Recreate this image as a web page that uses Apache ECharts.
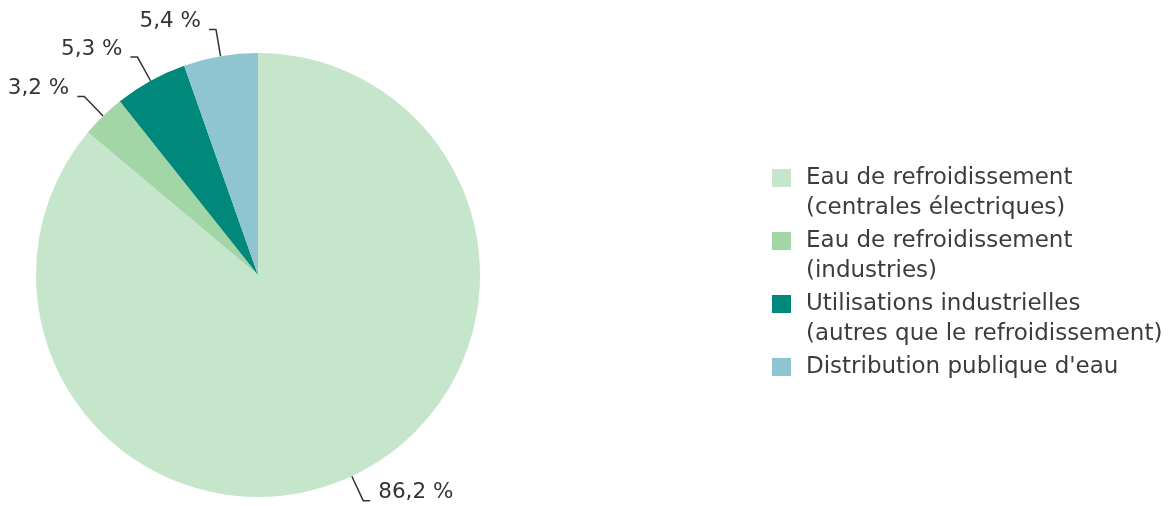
<!DOCTYPE html>
<html>
<head>
<meta charset="utf-8">
<style>
  html, body { margin: 0; padding: 0; background: #ffffff; }
  #chart { width: 1170px; height: 506px; }
</style>
<script src="https://cdn.jsdelivr.net/npm/echarts@6/dist/echarts.min.js"></script>
</head>
<body>
<div id="chart"></div>
<script>
// Répartition des prélèvements d'eau par usage (%)
const categories = [
  'Eau de refroidissement\n(centrales électriques)',
  'Eau de refroidissement\n(industries)',
  'Utilisations industrielles\n(autres que le refroidissement)',
  "Distribution publique d'eau"
];
const values = [86.2, 3.2, 5.3, 5.4];
const colors = ['#c6e6cb', '#a3d6a6', '#00897b', '#8fc4d1'];

const FONT = '"DejaVu Sans", Verdana, sans-serif';

const chart = echarts.init(document.getElementById('chart'));

chart.setOption({
  animation: false,
  backgroundColor: '#ffffff',
  legend: {
    orient: 'vertical',
    left: 772,
    top: 133,
    padding: 0,
    itemGap: -27,
    itemWidth: 19,
    itemHeight: 18,
    icon: 'rect',
    selectedMode: false,
    // every entry is laid out as three 30px lines so the swatch sits on the first text line
    formatter: function (name) {
      return name.indexOf('\n') >= 0 ? '\n' + name : '\n' + name + '\n';
    },
    textStyle: {
      fontFamily: FONT,
      fontSize: 23,
      color: '#3c3c3c',
      lineHeight: 30,
      padding: [0, 0, 0, 10]
    },
    data: categories
  },
  series: [{
    type: 'pie',
    center: [258, 275],
    radius: [0, 222],
    startAngle: 90,
    clockwise: true,
    avoidLabelOverlap: false,
    color: colors,
    itemStyle: { borderWidth: 0 },
    emphasis: { disabled: true },
    label: {
      show: true,
      position: 'outside',
      formatter: function (p) {
        return '{v|' + p.value.toFixed(1).replace('.', ',') + ' %}\n{s| }';
      },
      distanceToLabelLine: 8,
      rich: {
        v: { fontFamily: FONT, fontSize: 21.5, color: '#333333', lineHeight: 26 },
        s: { fontSize: 1, lineHeight: 16 }
      }
    },
    labelLine: {
      show: true,
      length: 27,
      length2: 7,
      lineStyle: { color: '#333333', width: 1.5 }
    },
    data: categories.map(function (name, i) {
      return { name: name, value: values[i] };
    })
  }]
});
</script>
</body>
</html>
